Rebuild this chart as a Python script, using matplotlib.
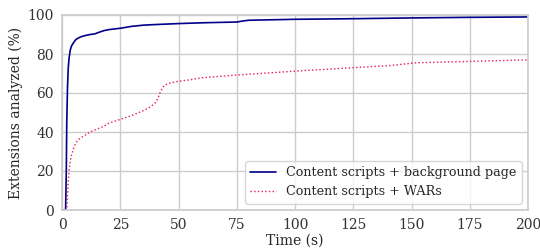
import numpy as np
import matplotlib; matplotlib.use("Agg")
import matplotlib.pyplot as plt
import seaborn as sns

sns.set_theme(style="whitegrid")
plt.rcParams['font.family'] = ['DejaVu Serif']

# Content scripts + background page
bg_t = [0, 1.5, 1.8, 2.0, 2.3, 2.6, 3, 3.5, 4, 5, 6, 7, 8, 10, 12, 14, 16, 18, 20, 25, 30, 35,
        40, 50, 60, 75, 78, 80, 100, 125, 150, 175, 200]
bg_v = [0, 0, 20, 45, 62, 72, 78, 82, 84, 86, 87.5, 88.2, 88.8, 89.5, 90, 90.3, 91.2, 92, 92.5, 93.2,
        94.2, 94.8, 95.1, 95.6, 96, 96.4, 97, 97.3, 97.8, 98.1, 98.5, 98.8, 99]
# Content scripts + WARs
war_t = [0, 2.0, 2.5, 3, 3.5, 4, 5, 6, 7, 8, 10, 12, 15, 18, 20, 25, 30, 35, 38, 40, 41, 42, 43, 44,
         46, 50, 55, 60, 75, 100, 125, 140, 148, 152, 175, 200]
war_v = [0, 0, 12, 20, 25, 28, 32, 34.5, 36, 37, 38.5, 40, 41.5, 43, 44.5, 46.5, 48.5, 51, 53, 55,
         57, 60, 62.5, 64, 65, 66, 66.8, 67.8, 69.2, 71.2, 73, 74, 75, 75.5, 76.2, 77]

fig, ax = plt.subplots(figsize=(5.4, 2.5), dpi=100)
ax.plot(bg_t, bg_v, color="#000088", lw=1.2, label="Content scripts + background page")
ax.plot(war_t, war_v, color="#ea1a50", lw=1.0, ls=":", label="Content scripts + WARs")
ax.set_xlim(0, 200)
ax.set_ylim(0, 100)
ax.set_xticks([0, 25, 50, 75, 100, 125, 150, 175, 200])
ax.set_yticks([0, 20, 40, 60, 80, 100])
ax.set_xlabel("Time (s)", fontsize=10, labelpad=1)
ax.set_ylabel("Extensions analyzed (%)", fontsize=10, labelpad=3)
ax.tick_params(labelsize=10, length=0, pad=6, colors="#333333")
for s in ax.spines.values():
    s.set_color("#cccccc")
ax.legend(loc="lower right", fontsize=9.2, frameon=True)
fig.subplots_adjust(left=0.115, right=0.978, top=0.94, bottom=0.16)
fig.savefig("out.png")
